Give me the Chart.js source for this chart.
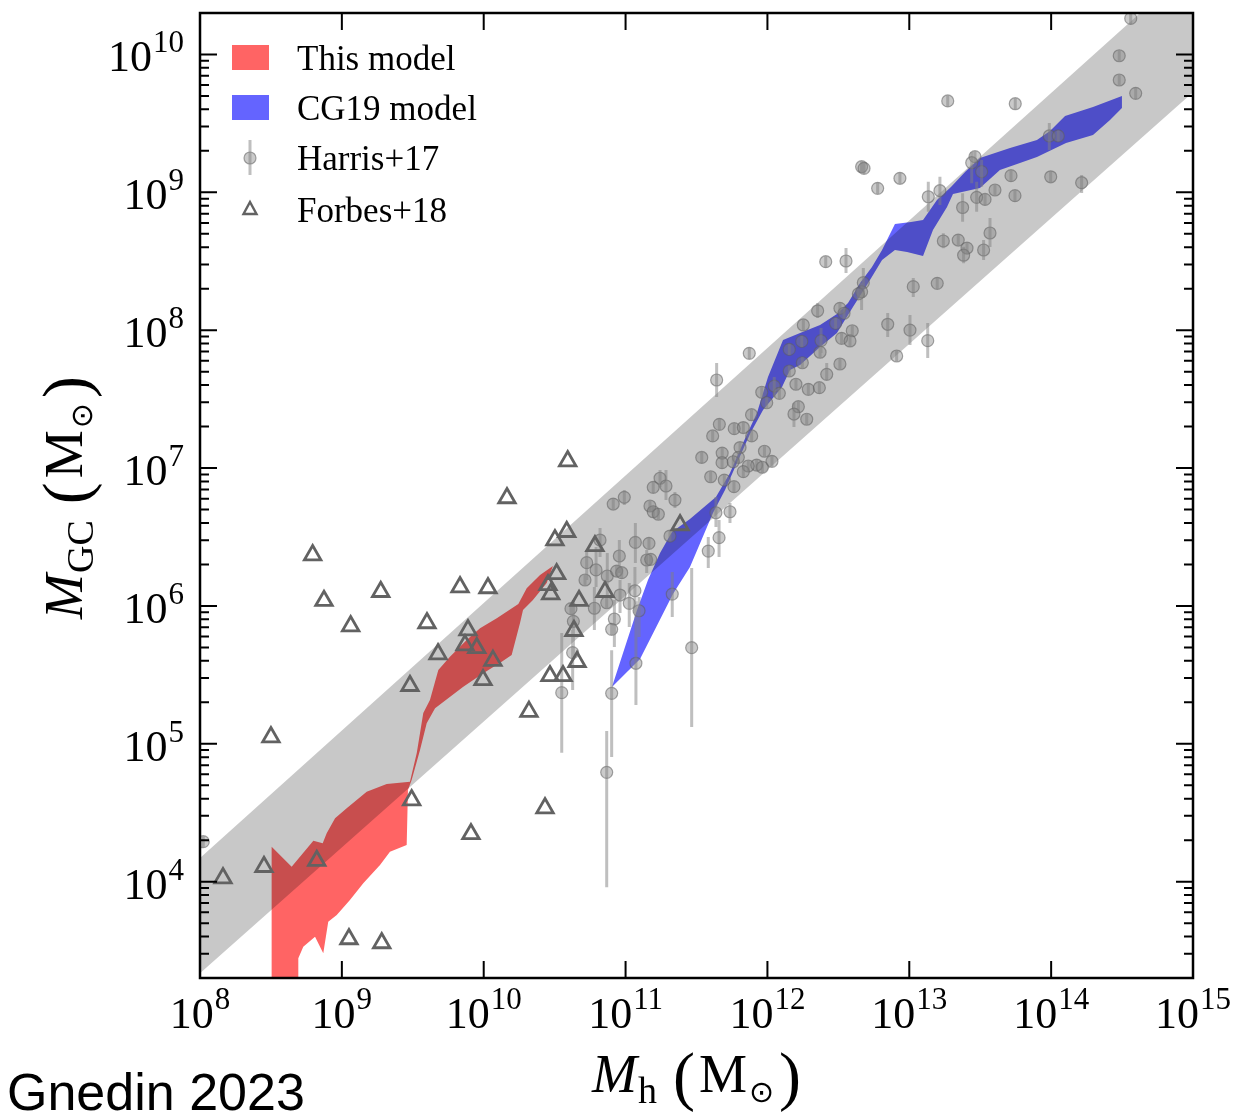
<!DOCTYPE html>
<html>
<head>
<meta charset="utf-8">
<script src="https://cdn.jsdelivr.net/npm/chart.js@4.4.0/dist/chart.umd.min.js"></script>
<style>
  html, body { margin: 0; padding: 0; background: #fff; }
  #wrap { position: relative; width: 1239px; height: 1118px; }
</style>
</head>
<body>
<div id="wrap"><canvas id="gc-chart" width="1239" height="1118"></canvas></div>
<script>
// all masses stored as log10(M / Msun)

// Forbes+18 dwarf galaxies
const forbesLogMh = [10.164, 8.794, 8.874, 9.062, 9.274, 9.600, 9.833, 10.030, 10.502, 10.585,
  10.784, 10.514, 10.453, 10.472, 10.855, 10.672, 9.889, 9.868, 9.951, 9.678,
  10.065, 10.636, 10.658, 9.995, 9.480, 10.467, 10.559, 10.319, 8.500, 9.492,
  10.432, 9.910, 8.823, 8.451, 8.162, 9.050, 9.281, 10.592, 11.384];
const forbesLogMgc = [6.783, 6.369, 6.038, 5.854, 6.103, 5.876, 6.137, 6.130, 6.478, 6.538,
  6.435, 6.232, 6.152, 6.086, 6.103, 6.038, 5.825, 5.716, 5.695, 5.651,
  5.603, 5.820, 5.595, 5.463, 5.421, 5.492, 5.492, 5.233, 5.049, 4.592,
  4.534, 4.346, 4.152, 4.108, 4.026, 3.584, 3.555, 7.051, 6.587];

// Harris+17 catalogue, with error bars in dex (down / up)
const harrisLogMh = [11.642, 11.661, 11.614, 11.766, 11.830, 11.888, 11.889, 11.537, 11.681, 11.680,
  11.807, 11.795, 11.979, 12.032, 11.924, 11.964, 11.865, 11.830, 11.600, 11.696,
  11.764, 11.759, 11.243, 11.195, 11.285, 10.991, 10.913, 11.172, 11.195, 11.231,
  11.348, 11.637, 11.736, 11.659, 11.583, 11.313, 11.069, 11.165, 11.149, 11.177,
  10.820, 10.726, 10.792, 10.871, 10.956, 10.937, 10.973, 10.714, 11.066, 10.961,
  10.867, 10.780, 10.615, 11.026, 11.095, 10.921, 10.902, 10.632, 10.627, 11.329,
  11.466, 11.073, 10.902, 10.550, 10.867, 8.023,
  12.664, 12.681, 12.777, 12.934, 13.134, 13.216, 13.463, 13.440, 13.510, 13.475,
  13.534, 13.376, 13.240, 13.345, 13.407, 13.383, 13.524, 13.569, 12.411, 12.554,
  12.676, 12.664, 12.641, 13.028, 13.197, 12.354, 12.511, 12.540, 12.253, 12.481,
  12.598, 12.523, 12.582, 12.848, 13.005, 13.130, 12.911, 11.872, 12.154, 12.242,
  12.378, 12.371, 12.246, 12.511, 12.154, 12.418, 12.048, 12.201, 12.288, 12.366,
  11.960, 11.995, 12.084, 12.218, 12.187, 12.277,
  14.561, 14.480, 14.480, 14.596, 13.271, 13.747, 13.987, 14.050, 13.717, 13.997,
  14.215, 13.604, 13.745];
const harrisLogMgc = [7.639, 7.317, 7.233, 7.286, 7.294, 7.387, 7.233, 7.077, 7.109, 7.039,
  7.149, 7.078, 7.122, 7.049, 7.022, 7.006, 7.015, 6.974, 6.937, 6.913,
  6.865, 7.046, 6.926, 6.860, 6.870, 6.788, 6.739, 6.725, 6.683, 6.665,
  6.768, 6.676, 6.683, 6.495, 6.398, 6.507, 6.461, 6.454, 6.333, 6.338,
  6.478, 6.314, 6.261, 6.217, 6.362, 6.253, 6.241, 6.188, 6.110, 6.079,
  6.023, 5.983, 5.980, 6.019, 5.965, 5.905, 5.830, 5.888, 5.661, 6.086,
  5.697, 5.584, 5.366, 5.371, 4.793, 4.290,
  9.186, 9.174, 9.029, 9.102, 8.968, 9.012, 9.259, 9.215, 9.150, 8.964,
  8.949, 8.890, 8.647, 8.654, 8.596, 8.544, 8.582, 8.705, 8.497, 8.502,
  8.345, 8.279, 8.263, 8.316, 8.340, 8.141, 8.159, 8.123, 8.038, 8.050,
  7.996, 7.941, 7.922, 8.043, 8.001, 7.924, 7.813, 7.832, 7.861, 7.919,
  7.924, 7.840, 7.764, 7.755, 7.704, 7.680, 7.595, 7.608, 7.571, 7.583,
  7.550, 7.474, 7.542, 7.445, 7.392, 7.354,
  10.262, 9.991, 9.815, 9.718, 9.663, 9.643, 9.409, 9.409, 9.121, 9.113,
  9.070, 9.017, 8.976];
const harrisErrDown = [0.123, 0.04, 0.04, 0.04, 0.04, 0.04, 0.04, 0.04, 0.04, 0.04,
  0.04, 0.04, 0.04, 0.04, 0.04, 0.04, 0.04, 0.04, 0.04, 0.04,
  0.04, 0.04, 0.065, 0.04, 0.102, 0.056, 0.04, 0.04, 0.04, 0.04,
  0.058, 0.104, 0.082, 0.140, 0.123, 0.04, 0.150, 0.04, 0.094, 0.04,
  0.123, 0.126, 0.123, 0.152, 0.123, 0.04, 0.04, 0.04, 0.162, 0.131,
  0.04, 0.157, 0.04, 0.172, 0.191, 0.203, 0.04, 0.281, 0.271, 0.167,
  0.576, 0.302, 0.462, 0.436, 0.834, 0.04,
  0.04, 0.04, 0.04, 0.04, 0.109, 0.104, 0.04, 0.149, 0.109, 0.104,
  0.04, 0.103, 0.053, 0.04, 0.04, 0.059, 0.073, 0.102, 0.04, 0.087,
  0.111, 0.133, 0.04, 0.075, 0.04, 0.053, 0.04, 0.04, 0.04, 0.04,
  0.04, 0.04, 0.04, 0.092, 0.109, 0.125, 0.04, 0.04, 0.04, 0.04,
  0.089, 0.04, 0.04, 0.04, 0.04, 0.042, 0.080, 0.04, 0.04, 0.04,
  0.04, 0.04, 0.04, 0.04, 0.094, 0.04,
  0.04, 0.04, 0.04, 0.04, 0.04, 0.04, 0.102, 0.04, 0.04, 0.04,
  0.075, 0.04, 0.04];
const harrisErrUp = [0.123, 0.04, 0.04, 0.04, 0.04, 0.04, 0.04, 0.04, 0.04, 0.04,
  0.04, 0.04, 0.04, 0.04, 0.04, 0.04, 0.04, 0.04, 0.04, 0.04,
  0.04, 0.04, 0.060, 0.04, 0.116, 0.053, 0.04, 0.04, 0.04, 0.04,
  0.058, 0.114, 0.063, 0.128, 0.102, 0.04, 0.140, 0.04, 0.073, 0.04,
  0.087, 0.092, 0.167, 0.167, 0.116, 0.04, 0.04, 0.04, 0.172, 0.109,
  0.04, 0.155, 0.04, 0.147, 0.099, 0.138, 0.04, 0.155, 0.165, 0.160,
  0.578, 0.450, 0.313, 0.433, 0.300, 0.04,
  0.04, 0.04, 0.04, 0.04, 0.109, 0.102, 0.04, 0.078, 0.085, 0.113,
  0.04, 0.103, 0.056, 0.04, 0.04, 0.062, 0.073, 0.109, 0.04, 0.094,
  0.107, 0.063, 0.04, 0.063, 0.04, 0.056, 0.04, 0.04, 0.04, 0.04,
  0.04, 0.04, 0.04, 0.082, 0.109, 0.128, 0.04, 0.04, 0.04, 0.04,
  0.092, 0.04, 0.04, 0.04, 0.04, 0.082, 0.065, 0.04, 0.04, 0.04,
  0.04, 0.04, 0.04, 0.04, 0.080, 0.04,
  0.04, 0.04, 0.04, 0.04, 0.04, 0.04, 0.094, 0.04, 0.04, 0.04,
  0.056, 0.04, 0.04];

// this model: upper and lower envelope of the red region
const modelUpperLogMh = [8.505, 8.646, 8.799, 8.865, 8.893, 8.952, 9.034, 9.175, 9.316, 9.480,
  9.528, 9.574, 9.621, 9.680, 9.762, 9.880, 9.974, 10.092, 10.244, 10.303, 10.397, 10.488];
const modelUpperLogMgc = [4.253, 4.108, 4.297, 4.278, 4.351, 4.459, 4.532, 4.652, 4.708, 4.725,
  4.933, 5.223, 5.318, 5.535, 5.632, 5.753, 5.838, 5.910, 6.014, 6.128, 6.224, 6.290];
const modelLowerLogMh = [8.505, 8.693, 8.693, 8.728, 8.811, 8.869, 8.904, 8.964, 9.057, 9.151,
  9.269, 9.339, 9.457, 9.466, 9.492, 9.551, 9.598, 9.657, 9.856, 9.997,
  10.127, 10.197, 10.256, 10.277, 10.347, 10.444, 10.488];
const modelLowerLogMgc = [3.0, 3.0, 3.444, 3.528, 3.601, 3.480, 3.709, 3.758, 3.867, 3.988,
  4.121, 4.217, 4.266, 4.665, 4.737, 4.955, 5.149, 5.257, 5.414, 5.511,
  5.595, 5.644, 5.876, 5.970, 6.043, 6.166, 6.290];

// CG19 model envelope
const cg19UpperLogMh = [10.904, 11.081, 11.158, 11.243, 11.327, 11.454, 11.637, 11.736, 11.828, 11.926,
  12.004, 12.110, 12.230, 12.371, 12.490, 12.568, 12.653, 12.737, 12.808, 12.899,
  13.012, 13.097, 13.195, 13.294, 13.393, 13.498, 13.710, 13.900, 13.992, 14.098, 14.295, 14.499];
const cg19UpperLogMgc = [5.412, 5.970, 6.188, 6.384, 6.536, 6.630, 6.790, 6.964, 7.182, 7.399,
  7.661, 7.929, 7.980, 8.038, 8.118, 8.197, 8.342, 8.458, 8.582, 8.770,
  8.785, 8.799, 8.944, 9.039, 9.148, 9.249, 9.322, 9.380, 9.445, 9.554, 9.619, 9.699];
const cg19LowerLogMh = [10.904, 11.102, 11.334, 11.454, 11.616, 11.701, 11.785, 11.877, 11.969, 12.103,
  12.159, 12.230, 12.371, 12.490, 12.533, 12.603, 12.723, 12.808, 12.899, 12.984,
  13.097, 13.167, 13.266, 13.308, 13.498, 13.639, 13.780, 13.900, 14.105, 14.295, 14.415, 14.499];
const cg19LowerLogMgc = [5.412, 5.615, 6.086, 6.282, 6.674, 6.841, 7.037, 7.247, 7.421, 7.588,
  7.711, 7.748, 7.878, 7.980, 8.052, 8.168, 8.364, 8.509, 8.582, 8.567,
  8.538, 8.727, 8.894, 8.988, 9.031, 9.162, 9.213, 9.256, 9.358, 9.416, 9.525, 9.612];

// grey scatter band of the linear relation
const bandLogMh = [8, 15];
const bandUpperLogMgc = [4.171, 10.646];
const bandLowerLogMgc = [3.335, 9.726];

// axis ticks
const xTickExps = [8, 9, 10, 11, 12, 13, 14, 15];
const yTickExps = [4, 5, 6, 7, 8, 9, 10];
const yMinorSteps = [2, 3, 4, 5, 6, 7, 8, 9];

const RED = 'rgb(255,100,100)';
const BLUE = 'rgb(100,100,255)';
const BAND = 'rgba(0,0,0,0.215)';
const CIRCLE_FILL = 'rgba(128,128,128,0.42)';
const CIRCLE_EDGE = 'rgba(95,95,95,0.55)';
const ERR_COLOR = 'rgba(128,128,128,0.5)';
const TRI_COLOR = 'rgb(98,98,98)';
const SERIF = '"Liberation Serif", "DejaVu Serif", serif';

const pts = (xs, ys) => xs.map((x, i) => ({ x: 10 ** x, y: 10 ** ys[i] }));
const polygon = (ux, uy, lx, ly) => pts(ux, uy).concat(pts(lx, ly).reverse());

const errSegments = [];
harrisLogMh.forEach((lx, i) => {
  const ly = harrisLogMgc[i];
  errSegments.push(
    { x: 10 ** lx, y: 10 ** (ly - harrisErrDown[i]) },
    { x: 10 ** lx, y: 10 ** (ly + harrisErrUp[i]) },
    { x: 10 ** lx, y: null }
  );
});

// "10" with a raised exponent
function drawPow10(ctx, exp, x, baseline, align) {
  const base = '44px ' + SERIF, sup = '31px ' + SERIF;
  ctx.font = base;
  const wb = ctx.measureText('10').width;
  ctx.font = sup;
  const we = ctx.measureText(String(exp)).width;
  const total = wb + 1 + we;
  const left = align === 'center' ? x - total / 2 : x - total;
  ctx.textAlign = 'left';
  ctx.textBaseline = 'alphabetic';
  ctx.font = base;
  ctx.fillText('10', left, baseline);
  ctx.font = sup;
  ctx.fillText(String(exp), left + wb + 1, baseline - 19);
}

// run of text pieces, each with its own font, leading space and baseline shift, centred on x
function drawRich(ctx, parts, x, baseline) {
  let total = 0;
  parts.forEach(p => { ctx.font = p.font; p.w = ctx.measureText(p.t).width; total += (p.lead || 0) + p.w; });
  let cx = x - total / 2;
  ctx.textAlign = 'left';
  ctx.textBaseline = 'alphabetic';
  parts.forEach(p => {
    cx += p.lead || 0;
    ctx.font = p.font;
    ctx.fillText(p.t, cx, baseline + (p.dy || 0));
    cx += p.w;
  });
}

function massLabel(sub) {
  return [
    { t: 'M', font: 'italic 54px ' + SERIF },
    { t: sub, font: '38px ' + SERIF, dy: 11, lead: 1 },
    { t: '(', font: '66px ' + SERIF, dy: 6, lead: 16 },
    { t: 'M', font: '54px ' + SERIF, lead: 4 },
    { t: '\u2299', font: '30px "DejaVu Sans"', dy: 10, lead: 2 },
    { t: ')', font: '66px ' + SERIF, dy: 6, lead: 5 }
  ];
}

const axesFrame = {
  id: 'axesFrame',
  afterDatasetsDraw(chart) {
    const { ctx, chartArea: a, scales: { x, y } } = chart;
    ctx.save();
    ctx.strokeStyle = '#000';
    ctx.lineWidth = 2;
    ctx.beginPath();
    xTickExps.forEach(e => {
      const px = x.getPixelForValue(10 ** e);
      ctx.moveTo(px, a.bottom); ctx.lineTo(px, a.bottom - 17);
      ctx.moveTo(px, a.top); ctx.lineTo(px, a.top + 17);
    });
    for (let e = yTickExps[0] - 1; e <= yTickExps[yTickExps.length - 1]; e++) {
      [1, ...yMinorSteps].forEach(m => {
        const v = m * 10 ** e;
        if (v <= y.min || v >= y.max) return;
        const py = y.getPixelForValue(v);
        const len = m === 1 ? 17 : 9;
        ctx.moveTo(a.left, py); ctx.lineTo(a.left + len, py);
        ctx.moveTo(a.right, py); ctx.lineTo(a.right - len, py);
      });
    }
    ctx.stroke();
    ctx.lineWidth = 2.5;
    ctx.strokeRect(a.left, a.top, a.right - a.left, a.bottom - a.top);

    ctx.fillStyle = '#000';
    xTickExps.forEach(e => drawPow10(ctx, e, x.getPixelForValue(10 ** e), a.bottom + 50, 'center'));
    yTickExps.forEach(e => drawPow10(ctx, e, a.left - 16, y.getPixelForValue(10 ** e) + 17, 'right'));

    drawRich(ctx, massLabel('h'), (a.left + a.right) / 2, a.bottom + 114);
    ctx.save();
    ctx.translate(82, (a.top + a.bottom) / 2 + 2);
    ctx.rotate(-Math.PI / 2);
    drawRich(ctx, massLabel('GC'), 0, 0);
    ctx.restore();

    ctx.font = '52px "Liberation Sans", Arial, sans-serif';
    ctx.textAlign = 'left';
    ctx.fillText('Gnedin 2023', 7, 1110);
    ctx.restore();
  }
};

const legendBox = {
  id: 'legendBox',
  afterDatasetsDraw(chart) {
    const { ctx, chartArea: a } = chart;
    const mx = a.left + 50, tx = a.left + 97;
    const rows = [a.top + 45, a.top + 95, a.top + 145, a.top + 197];
    const names = ['This model', 'CG19 model', 'Harris+17', 'Forbes+18'];
    ctx.save();
    ctx.fillStyle = RED;
    ctx.fillRect(mx - 18, rows[0] - 13, 37, 25);
    ctx.fillStyle = BLUE;
    ctx.fillRect(mx - 18, rows[1] - 13, 37, 25);
    ctx.fillStyle = CIRCLE_FILL; ctx.strokeStyle = CIRCLE_EDGE; ctx.lineWidth = 1.2;
    ctx.beginPath(); ctx.arc(mx, rows[2], 6, 0, Math.PI * 2); ctx.fill(); ctx.stroke();
    ctx.strokeStyle = ERR_COLOR;
    ctx.lineWidth = 3;
    ctx.beginPath();
    ctx.moveTo(mx, rows[2] - 18); ctx.lineTo(mx, rows[2] + 17);
    ctx.stroke();
    ctx.strokeStyle = TRI_COLOR; ctx.lineWidth = 2.4;
    ctx.beginPath();
    ctx.moveTo(mx, rows[3] - 8);
    ctx.lineTo(mx + 6.5, rows[3] + 4);
    ctx.lineTo(mx - 6.5, rows[3] + 4);
    ctx.closePath();
    ctx.stroke();
    ctx.fillStyle = '#000';
    ctx.font = '35px ' + SERIF;
    ctx.textAlign = 'left';
    ctx.textBaseline = 'alphabetic';
    names.forEach((n, i) => ctx.fillText(n, tx, rows[i] + 12));
    ctx.restore();
  }
};

new Chart(document.getElementById('gc-chart').getContext('2d'), {
  type: 'scatter',
  data: {
    datasets: [
      {
        label: 'Forbes+18',
        data: pts(forbesLogMh, forbesLogMgc),
        pointStyle: 'triangle',
        pointRadius: 9.5,
        pointBorderWidth: 2.8,
        borderColor: TRI_COLOR,
        backgroundColor: 'rgba(0,0,0,0)',
        order: 0
      },
      {
        type: 'line',
        label: 'Harris+17 errors',
        data: errSegments,
        borderColor: ERR_COLOR,
        borderWidth: 3,
        pointRadius: 0,
        spanGaps: false,
        fill: false,
        order: 1
      },
      {
        label: 'Harris+17',
        data: pts(harrisLogMh, harrisLogMgc),
        pointRadius: 6,
        pointBorderWidth: 1.2,
        borderColor: CIRCLE_EDGE,
        backgroundColor: CIRCLE_FILL,
        order: 2
      },
      {
        type: 'line',
        label: 'band',
        data: polygon(bandLogMh, bandUpperLogMgc, bandLogMh, bandLowerLogMgc),
        fill: 'shape',
        backgroundColor: BAND,
        borderColor: 'rgba(0,0,0,0)',
        borderWidth: 0,
        pointRadius: 0,
        order: 3
      },
      {
        type: 'line',
        label: 'CG19 model',
        data: polygon(cg19UpperLogMh, cg19UpperLogMgc, cg19LowerLogMh, cg19LowerLogMgc),
        fill: 'shape',
        backgroundColor: BLUE,
        borderColor: 'rgba(0,0,0,0)',
        borderWidth: 0,
        pointRadius: 0,
        order: 4
      },
      {
        type: 'line',
        label: 'This model',
        data: polygon(modelUpperLogMh, modelUpperLogMgc, modelLowerLogMh, modelLowerLogMgc),
        fill: 'shape',
        backgroundColor: RED,
        borderColor: 'rgba(0,0,0,0)',
        borderWidth: 0,
        pointRadius: 0,
        order: 5
      }
    ]
  },
  options: {
    responsive: false,
    animation: false,
    events: [],
    layout: { padding: { left: 200, top: 13, right: 46, bottom: 140 } },
    scales: {
      x: { type: 'logarithmic', min: 1e8, max: 1e15, display: false },
      y: { type: 'logarithmic', min: 2e3, max: 2e10, display: false }
    },
    plugins: {
      legend: { display: false },
      tooltip: { enabled: false }
    }
  },
  plugins: [axesFrame, legendBox]
});
</script>
</body>
</html>
